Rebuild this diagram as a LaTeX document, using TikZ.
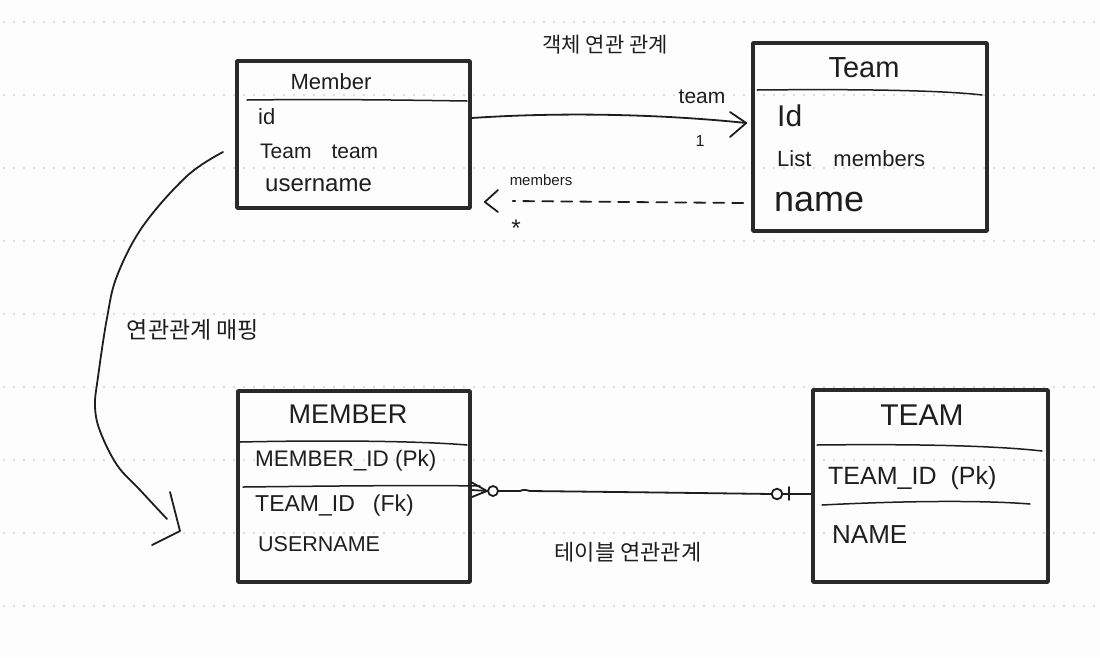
\documentclass[tikz,border=0pt]{standalone}
\usepackage{fontspec}
\setmainfont{Liberation Sans}
\newfontfamily\kr{Noto Sans CJK KR}
\definecolor{ink}{HTML}{1E1E1E}
\definecolor{boxc}{HTML}{2A2A2A}
\definecolor{dotc}{HTML}{D2D2D2}
\definecolor{bg}{HTML}{FDFDFD}
\begin{document}
\begin{tikzpicture}[x=1pt,y=-1pt,line cap=round,line join=round,
  box/.style={draw=boxc,line width=3.6pt,rectangle,inner sep=0pt},
  hand/.style={draw=ink,line width=1.8pt},
  thin hand/.style={draw=ink,line width=1.5pt},
  txt/.style={inner sep=0pt,text=ink},
  fs/.style={font=\fontsize{#1}{#1}\selectfont}]
\fill[bg] (0,0) rectangle (1100,657);
\useasboundingbox (0,0) rectangle (1100,657);
% notebook dotted lines
\foreach \yy in {22,95,168,241,314,387,460,533,606}{
  \foreach \xx in {4,14,...,1094}{
    \fill[dotc] (\xx,\yy) circle (1.1pt);
  }
}
% ---------- boxes ----------
\node[box,minimum width=233pt,minimum height=147pt] (member) at (353.5,134.5) {};
\node[box,minimum width=234pt,minimum height=188pt] (team) at (870,137) {};
\node[box,minimum width=232pt,minimum height=191pt] (memberT) at (354,486.5) {};
\node[box,minimum width=235pt,minimum height=192pt] (teamT) at (930.5,486) {};
% ---------- Member ----------
\node[txt,fs=22pt] (mtitle) at (331,82) {Member};
\draw[thin hand] (247,100) .. controls (330,99) and (400,100) .. (467,101);
\node[txt,fs=22pt,anchor=west] (mid) at (258,117) {id};
\node[txt,fs=21pt,anchor=west] (mteam) at (260,151) {Team\hspace{20pt}team};
\node[txt,fs=24pt,anchor=west] (muser) at (265,185) {username};
% ---------- Team ----------
\node[txt,fs=29pt] (ttitle) at (864,68) {Team};
\draw[thin hand] (757,90) .. controls (850,89) and (940,90) .. (982,95);
\node[txt,fs=30pt,anchor=west] (tid) at (777,116) {Id};
\node[txt,fs=22pt,anchor=west] (tlist) at (777,159) {List\hspace{22pt}members};
\node[txt,fs=36pt,anchor=west] (tname) at (774,202) {name};
% ---------- object association ----------
\node[txt,fs=21pt] (objlabel) at (605,45) {\kr 객체 연관 관계};
\draw[hand] ([yshift=16.5pt]member.east) .. controls (560,112) and (660,114) .. ([xshift=-5pt,yshift=14pt]team.west) coordinate (tarrow);
\draw[hand] (730,112) -- (tarrow) -- (730,137);
\node[txt,fs=21pt] (teamlbl) at (702,97) {team};
\node[txt,fs=16pt] (one) at (700,141) {1};
\draw[hand,dash pattern=on 11pt off 8pt] ([xshift=-8pt,yshift=-66pt]team.west) -- ([xshift=41pt,yshift=-66.5pt]member.east);
\coordinate (marrow) at ([xshift=13pt,yshift=-67.5pt]member.east);
\draw[hand] (498,190) -- (marrow) -- (498,212);
\node[txt,fs=15pt] (memlbl) at (541,180) {members};
\node[txt,fs=24pt] (star) at (516,228) {*};
% ---------- mapping arrow ----------
\coordinate (mapstart) at (223,152);
\coordinate (mapend) at (167,519);
\draw[hand] plot[smooth,tension=0.6] coordinates {(mapstart) (187,176) (143,226) (117,276) (107,318) (98,377) (95,406) (100,431) (117,465) (140,490) (mapend)};
\draw[hand] (170,492) -- (180,531) -- (152,545);
\node[txt,fs=23pt] (maplabel) at (193,330) {\kr 연관관계 매핑};
% ---------- MEMBER table ----------
\node[txt,fs=27pt] (Mtitle) at (348,414) {MEMBER};
\draw[thin hand] (240,442) .. controls (330,440) and (420,441) .. (467,445);
\node[txt,fs=22.5pt,anchor=west] (Mid) at (255,461) {MEMBER\_ID (Pk)};
\draw[thin hand] (243,487) .. controls (330,486) and (420,485) .. (480,486);
\node[txt,fs=23pt,anchor=west] (Mteam) at (255,506) {TEAM\_ID\hspace{18pt}(Fk)};
\node[txt,fs=21.5pt,anchor=west] (Muser) at (258,544) {USERNAME};
% ---------- TEAM table ----------
\node[txt,fs=30pt] (Ttitle) at (922,415) {TEAM};
\draw[thin hand] (817,445) .. controls (900,444) and (990,445) .. (1042,451);
\node[txt,fs=25pt,anchor=west] (Tid) at (828,478) {TEAM\_ID\hspace{14pt}(Pk)};
\draw[thin hand] (822,505) .. controls (900,501) and (980,500) .. (1030,504);
\node[txt,fs=26pt,anchor=west] (Tname) at (832,535) {NAME};
% ---------- table association ----------
\draw[hand] ([yshift=-3.5pt]memberT.east) -- (488,491);
\draw[hand] (471,482) -- (487,491) -- (472,497);
\draw[hand] (493,491) circle (5pt);
\draw[hand] (498,491) -- (520,491) .. controls (524,489) and (527,490) .. (530,491) .. controls (620,492) and (700,493) .. (772,494);
\draw[hand] (777,494) circle (5.3pt);
\draw[hand] (789,487) -- (789,500);
\draw[hand] (782,494) -- ([yshift=-8pt]teamT.west);
\node[txt,fs=22pt] (tbllabel) at (628,552) {\kr 테이블 연관관계};
\end{tikzpicture}
\end{document}
